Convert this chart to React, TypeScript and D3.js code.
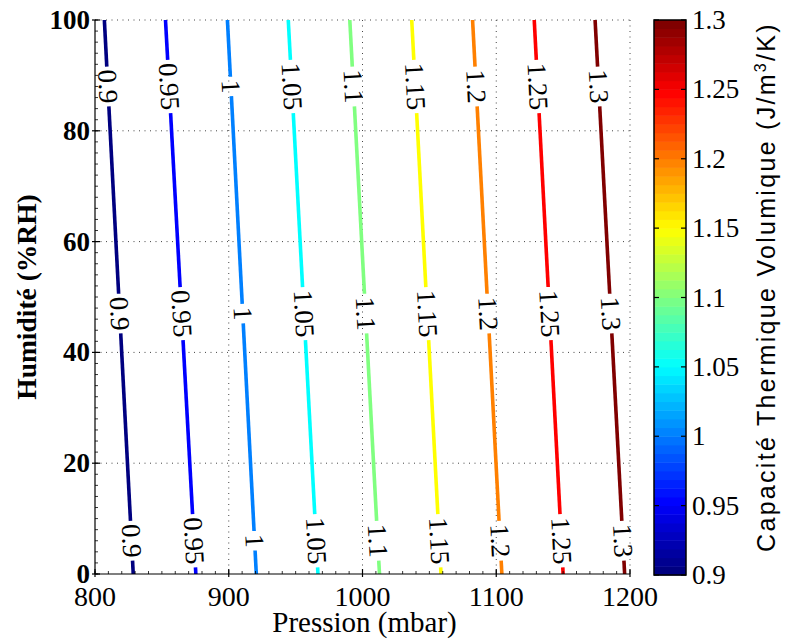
import React from "react";
import * as d3 from "d3";

// ---- data ----
const levels = [0.9, 0.95, 1, 1.05, 1.1, 1.15, 1.2, 1.25, 1.3];
const levelLabels = ["0.9", "0.95", "1", "1.05", "1.1", "1.15", "1.2", "1.25", "1.3"];
// pressure (mbar) where each contour meets RH = 0 % and RH = 100 %
const pressureAtRH0 = [828.6, 875.4, 920.6, 966.7, 1012.7, 1058.7, 1104.2, 1150, 1196];
const pressureAtRH100 = [807, 852.7, 899, 944.5, 990.5, 1036.8, 1082.3, 1128.4, 1173.9];
// humidities at which contour labels are placed
const labelRH = [6, 47, 88];

const xTicks = [800, 900, 1000, 1100, 1200];
const yTicks = [0, 20, 40, 60, 80, 100];
const cbTicks = [0.9, 0.95, 1, 1.05, 1.1, 1.15, 1.2, 1.25, 1.3];
const cbTickLabels = ["0.9", "0.95", "1", "1.05", "1.1", "1.15", "1.2", "1.25", "1.3"];

const W = 785;
const H = 639;
const M = { left: 95, right: 630, top: 20, bottom: 574 };
const CB = { x0: 654, x1: 686, top: 20, bottom: 575 };
const SERIF = '"Liberation Serif", "Times New Roman", Times, serif';
const SANS = '"Liberation Sans", Arial, Helvetica, sans-serif';

function jet(t: number): string {
  const c = (v: number) => Math.max(0, Math.min(1, v));
  const r = c(1.5 - Math.abs(4 * t - 3));
  const g = c(1.5 - Math.abs(4 * t - 2));
  const b = c(1.5 - Math.abs(4 * t - 1));
  return d3.rgb(r * 255, g * 255, b * 255).formatHex();
}

export default function App() {
  const x = d3.scaleLinear().domain([800, 1200]).range([M.left, M.right]);
  const y = d3.scaleLinear().domain([0, 100]).range([M.bottom, M.top]);
  const cb = d3.scaleLinear().domain([0.9, 1.3]).range([CB.bottom, CB.top]);
  const line = d3
    .line<[number, number]>()
    .x((d) => x(d[0]))
    .y((d) => y(d[1]));

  const labelFont = 27;
  const pxPerRH = (M.bottom - M.top) / 100;

  const contours = levels.map((lev, i) => {
    const p0 = pressureAtRH0[i];
    const p1 = pressureAtRH100[i];
    const pAt = (h: number) => p0 + ((p1 - p0) * h) / 100;
    const dx = x(p0) - x(p1);
    const dy = y(0) - y(100);
    const angle = (Math.atan2(dy, dx) * 180) / Math.PI;
    const sinA = dy / Math.hypot(dx, dy);
    const txt = levelLabels[i];
    let w = 0;
    for (const ch of txt) w += ch === "." ? 0.25 : 0.5;
    const half = (w * labelFont) / 2 + 3;
    const gH = (half * sinA) / pxPerRH;
    const bounds = [0];
    labelRH.forEach((h) => {
      bounds.push(h - gH, h + gH);
    });
    bounds.push(100);
    const segs: [number, number][][] = [];
    for (let k = 0; k < bounds.length; k += 2) {
      const a = bounds[k];
      const b = bounds[k + 1];
      if (b > a) segs.push([[pAt(a), a], [pAt(b), b]]);
    }
    const labels = labelRH.map((h) => ({ px: x(pAt(h)), py: y(h) }));
    return { lev, color: jet(i / (levels.length - 1)), segs, labels, angle, txt };
  });

  const xMinor = d3.range(800, 1201, 10);
  const yMinor = d3.range(0, 101, 2);
  const nBands = 64;
  const bandH = (CB.bottom - CB.top) / nBands;

  return (
    <svg
      width={W}
      height={H}
      viewBox={`0 0 ${W} ${H}`}
      style={{ position: "absolute", left: 0, top: 0, background: "#fff" }}
    >
      <rect x={0} y={0} width={W} height={H} fill="#fff" />
      {/* grid */}
      <g stroke="#444" strokeWidth={1} strokeDasharray="1,4.5" fill="none">
        {xTicks.slice(1).map((t) => (
          <line key={"gx" + t} x1={x(t)} x2={x(t)} y1={M.top} y2={M.bottom} />
        ))}
        {yTicks.slice(1).map((t) => (
          <line key={"gy" + t} x1={M.left} x2={M.right} y1={y(t)} y2={y(t)} />
        ))}
      </g>
      {/* contour lines */}
      {contours.map((c) => (
        <g key={"c" + c.lev}>
          {c.segs.map((s, k) => (
            <path
              key={k}
              d={line(s) || ""}
              stroke={c.color}
              strokeWidth={3.6}
              fill="none"
            />
          ))}
          {c.labels.map((l, k) => (
            <text
              key={"l" + k}
              transform={`translate(${l.px},${l.py}) rotate(${c.angle})`}
              textAnchor="middle"
              dominantBaseline="central"
              fontFamily={SERIF}
              fontSize={labelFont}
              fill="#000"
            >
              {c.txt}
            </text>
          ))}
        </g>
      ))}
      {/* axes */}
      <g stroke="#000" strokeWidth={1.2}>
        <line x1={M.left} x2={M.left} y1={M.top} y2={M.bottom} />
        <line x1={M.left} x2={M.right} y1={M.bottom} y2={M.bottom} />
        {xMinor.map((t) => (
          <line key={"xm" + t} x1={x(t)} x2={x(t)} y1={M.bottom} y2={M.bottom - 3} strokeWidth={0.8} />
        ))}
        {yMinor.map((t) => (
          <line key={"ym" + t} x1={M.left} x2={M.left + 3} y1={y(t)} y2={y(t)} strokeWidth={0.8} />
        ))}
        {xTicks.map((t) => (
          <line key={"xt" + t} x1={x(t)} x2={x(t)} y1={M.bottom + 3} y2={M.bottom - 5} />
        ))}
        {yTicks.map((t) => (
          <line key={"yt" + t} x1={M.left - 3} x2={M.left + 5} y1={y(t)} y2={y(t)} />
        ))}
      </g>
      {/* tick labels */}
      {xTicks.map((t) => (
        <text
          key={"xl" + t}
          x={x(t)}
          y={606}
          textAnchor="middle"
          fontFamily={SERIF}
          fontSize={28}
        >
          {t}
        </text>
      ))}
      {yTicks.map((t) => (
        <text
          key={"yl" + t}
          x={M.left - 5}
          y={y(t)}
          textAnchor="end"
          dominantBaseline="central"
          fontFamily={SERIF}
          fontWeight="bold"
          fontSize={27}
        >
          {t}
        </text>
      ))}
      <text
        x={(M.left + M.right) / 2 + 2}
        y={632}
        textAnchor="middle"
        fontFamily={SERIF}
        fontSize={29}
      >
        Pression (mbar)
      </text>
      <text
        transform={`translate(36,${(M.top + M.bottom) / 2}) rotate(-90)`}
        textAnchor="middle"
        fontFamily={SERIF}
        fontWeight="bold"
        fontSize={27.5}
      >
        Humidité (%RH)
      </text>
      {/* colorbar */}
      {d3.range(nBands).map((i) => (
        <rect
          key={"b" + i}
          x={CB.x0}
          y={CB.bottom - (i + 1) * bandH}
          width={CB.x1 - CB.x0}
          height={bandH + 0.5}
          fill={jet(i / (nBands - 1))}
        />
      ))}
      <rect
        x={CB.x0}
        y={CB.top}
        width={CB.x1 - CB.x0}
        height={CB.bottom - CB.top}
        fill="none"
        stroke="#000"
        strokeWidth={1.5}
      />
      <g stroke="#000" strokeWidth={1.2}>
        {cbTicks.map((t) => (
          <g key={"cbt" + t}>
            <line x1={CB.x0} x2={CB.x0 + 5} y1={cb(t)} y2={cb(t)} />
            <line x1={CB.x1 - 5} x2={CB.x1} y1={cb(t)} y2={cb(t)} />
          </g>
        ))}
      </g>
      {cbTicks.map((t, i) => (
        <text
          key={"cbl" + t}
          x={CB.x1 + 6}
          y={cb(t)}
          dominantBaseline="central"
          fontFamily={SERIF}
          fontSize={27}
        >
          {cbTickLabels[i]}
        </text>
      ))}
      <text
        transform={`translate(775,287) rotate(-90)`}
        textAnchor="middle"
        fontFamily={SANS}
        fontSize={25}
        letterSpacing={2.3}
      >
        Capacité Thermique Volumique (J/m
        <tspan dy={-9} fontSize={16}>
          3
        </tspan>
        <tspan dy={9}>/K)</tspan>
      </text>
    </svg>
  );
}
